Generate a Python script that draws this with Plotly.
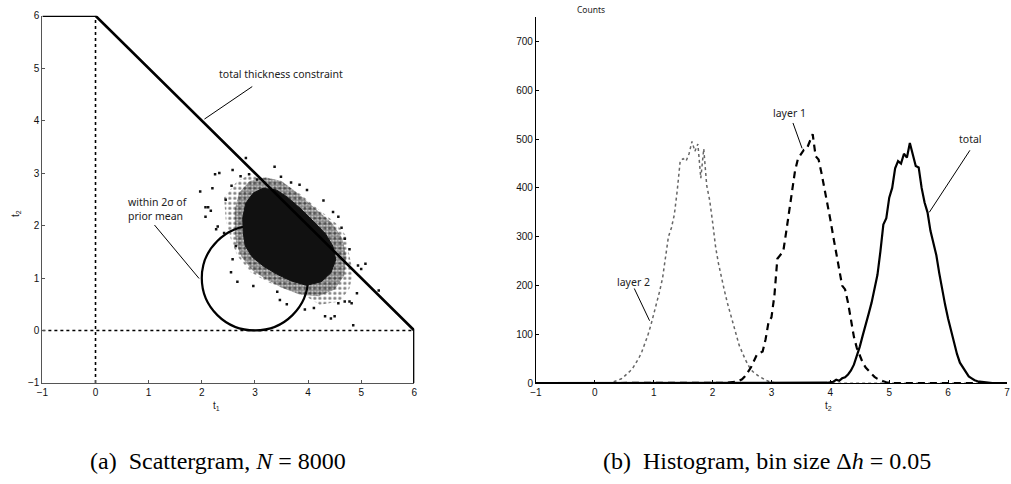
import numpy as np
import plotly.graph_objects as go

# ---------------- data: scattergram (left) ----------------
constraint_t1 = [-1, 0, 6, 6]
constraint_t2 = [6, 6, 0, -1]

# solid core of the 8000-sample cloud (outline)
core_t1 = [2.78, 2.77, 2.83, 2.97, 3.15, 3.40, 3.60, 3.85, 4.10, 4.33, 4.47, 4.52, 4.43, 4.25, 3.97, 3.67, 3.42, 3.17, 2.95, 2.82]
core_t2 = [1.86, 2.15, 2.43, 2.62, 2.71, 2.68, 2.55, 2.33, 2.08, 1.84, 1.60, 1.35, 1.10, 0.93, 0.86, 0.95, 1.07, 1.22, 1.40, 1.61]

# dense speckled fringe
fringe_t1 = [2.62, 2.62, 2.70, 2.90, 3.20, 3.50, 3.80, 4.10, 4.45, 4.65, 4.72, 4.68, 4.50, 4.20, 3.85, 3.50, 3.20, 2.95, 2.75, 2.65]
fringe_t2 = [1.90, 2.30, 2.62, 2.85, 2.92, 2.85, 2.62, 2.35, 2.05, 1.75, 1.40, 1.05, 0.78, 0.65, 0.68, 0.82, 0.98, 1.15, 1.40, 1.65]

# sparse outer halo
halo_t1 = [2.42, 2.67, 2.92, 3.17, 3.48, 3.85, 4.22, 4.53, 4.72, 4.78, 4.85, 4.78, 4.60, 4.22, 3.91, 3.54, 3.23, 2.92, 2.67, 2.55, 2.45]
halo_t2 = [2.54, 2.85, 2.98, 2.91, 2.85, 2.60, 2.29, 2.04, 1.80, 1.42, 1.11, 0.80, 0.55, 0.49, 0.68, 0.80, 0.93, 1.11, 1.42, 1.73, 2.11]

# isolated samples outside the halo
out_t1 = [2.83, 3.37, 2.58, 2.25, 2.33, 1.97, 2.20, 2.07, 2.12, 2.07, 2.17, 2.30, 2.27, 2.45, 2.56,
          2.73, 2.89, 3.04, 3.49, 3.68, 3.84, 3.98, 4.63, 4.69, 4.78, 4.94, 5.08, 5.00, 5.33, 4.92,
          4.82, 4.69, 4.57, 4.32, 4.43, 4.50, 4.85, 4.11, 3.94, 3.60, 3.47, 2.97, 3.42, 2.58, 2.64,
          2.55, 2.67, 2.42, 4.57, 4.47, 4.29, 4.78]
out_t2 = [3.29, 3.12, 3.06, 2.98, 3.00, 2.65, 2.71, 2.35, 2.35, 2.17, 2.28, 1.98, 1.93, 2.49, 2.76,
          2.94, 2.98, 2.88, 2.93, 2.82, 2.78, 2.68, 1.96, 1.75, 1.55, 1.24, 1.27, 1.17, 0.76, 0.71,
          0.52, 0.55, 0.52, 0.27, 0.23, 0.27, 0.10, 0.43, 0.40, 0.50, 0.58, 0.85, 0.74, 1.36, 1.61,
          1.11, 0.93, 1.86, 2.17, 2.26, 2.48, 0.55]

prior_center = (3, 1)
prior_radius = 1

# ---------------- data: histogram (right) ----------------
bin_size = 0.05
layer2_start = 0.30
layer2_counts = [2, 4, 6, 9, 14, 19, 25, 32, 42, 52, 65, 80, 98, 118, 140, 162, 188, 215, 255, 300,
                 318, 345, 395, 455, 460, 455, 470, 495, 475, 490, 420, 480, 405, 375, 330, 280, 245,
                 215, 190, 165, 145, 125, 100, 78, 62, 50, 38, 28, 22, 17, 13, 10, 6, 4, 2, 1]
layer1_start = 2.20
layer1_counts = [0, 1, 2, 2, 3, 5, 8, 14, 22, 32, 45, 58, 62, 65, 90, 125, 135, 180, 255, 262, 270,
                 310, 350, 395, 435, 460, 470, 478, 480, 495, 510, 465, 458, 430, 400, 365, 335, 300,
                 265, 230, 200, 192, 165, 130, 95, 72, 55, 42, 32, 25, 18, 13, 9, 6, 4, 2, 1, 0]
total_start = 3.90
total_counts = [0, 1, 2, 3, 7, 5, 10, 12, 18, 26, 38, 55, 75, 98, 118, 142, 165, 195, 222, 270, 325,
                338, 380, 400, 440, 455, 450, 470, 462, 492, 470, 445, 442, 400, 370, 350, 312, 285,
                262, 225, 190, 160, 132, 108, 80, 60, 42, 32, 22, 14, 10, 6, 4, 3, 2, 1, 1, 0]

hist_min, hist_max = -1.0, 7.0

x1_ticks = [-1, 0, 1, 2, 3, 4, 5, 6]
y1_ticks = [-1, 0, 1, 2, 3, 4, 5, 6]
x2_ticks = [-1, 0, 1, 2, 3, 4, 5, 6, 7]
y2_ticks = [0, 100, 200, 300, 400, 500, 600, 700]

# ---------------- build ----------------
W, H = 1011, 484
bins = np.round(np.arange(hist_min, hist_max + bin_size / 2, bin_size), 2)


def full_counts(start, counts):
    c = np.zeros(len(bins))
    i0 = int(round((start - hist_min) / bin_size))
    c[i0:i0 + len(counts)] = counts
    return c


def px(x):
    return x / W


def py(y):
    return 1 - y / H


def closed(a):
    return list(a) + [a[0]]


fig = go.Figure()

# left panel traces
fig.add_trace(go.Scatter(x=[-1, 6], y=[0, 0], mode="lines",
                         line=dict(color="black", width=1.6, dash="dot"), xaxis="x", yaxis="y"))
fig.add_trace(go.Scatter(x=[0, 0], y=[-1, 6], mode="lines",
                         line=dict(color="black", width=1.6, dash="dot"), xaxis="x", yaxis="y"))
fig.add_trace(go.Scatter(x=closed(halo_t1), y=closed(halo_t2), mode="lines", fill="toself",
                         line=dict(width=0, color="rgba(0,0,0,0)"), fillcolor="rgba(0,0,0,0)",
                         fillpattern=dict(shape=".", size=5, solidity=0.3, fgcolor="black",
                                          bgcolor="rgba(0,0,0,0)", fillmode="overlay"),
                         xaxis="x", yaxis="y"))
fig.add_trace(go.Scatter(x=closed(fringe_t1), y=closed(fringe_t2), mode="lines", fill="toself",
                         line=dict(width=0, color="rgba(0,0,0,0)"), fillcolor="rgba(0,0,0,0)",
                         fillpattern=dict(shape=".", size=3, solidity=0.75, fgcolor="black",
                                          bgcolor="rgba(0,0,0,0)", fillmode="overlay"),
                         xaxis="x", yaxis="y"))
fig.add_trace(go.Scatter(x=closed(core_t1), y=closed(core_t2), mode="lines", fill="toself",
                         line=dict(width=1, color="#111"), fillcolor="#111",
                         xaxis="x", yaxis="y"))
fig.add_trace(go.Scatter(x=out_t1, y=out_t2, mode="markers",
                         marker=dict(symbol="square", size=2.5, color="#111", line=dict(width=0)),
                         xaxis="x", yaxis="y"))
fig.add_trace(go.Scatter(x=constraint_t1, y=constraint_t2, mode="lines",
                         line=dict(color="black", width=2.6), xaxis="x", yaxis="y"))

# right panel traces
fig.add_trace(go.Scatter(x=bins, y=full_counts(layer2_start, layer2_counts), mode="lines",
                         line=dict(color="#666", width=1.5, dash="dot"), xaxis="x2", yaxis="y2"))
fig.add_trace(go.Scatter(x=bins, y=full_counts(layer1_start, layer1_counts), mode="lines",
                         line=dict(color="black", width=2.2, dash="7px,5px"), xaxis="x2", yaxis="y2"))
fig.add_trace(go.Scatter(x=bins, y=full_counts(total_start, total_counts), mode="lines",
                         line=dict(color="black", width=2.2), xaxis="x2", yaxis="y2"))

cx, cy = prior_center
shapes = [
    dict(type="circle", xref="x", yref="y", x0=cx - prior_radius, x1=cx + prior_radius,
         y0=cy - prior_radius, y1=cy + prior_radius, line=dict(color="black", width=2.2), layer="below"),
    dict(type="line", xref="x", yref="y", x0=2.95, y0=4.65, x1=2.05, y1=4.03, line=dict(color="black", width=1)),
    dict(type="line", xref="x", yref="y", x0=1.11, y0=2.01, x1=1.95, y1=0.99, line=dict(color="black", width=1)),
    dict(type="line", xref="x2", yref="y2", x0=3.365, y0=533, x1=3.52, y1=481, line=dict(color="black", width=1)),
    dict(type="line", xref="x2", yref="y2", x0=0.67, y0=194, x1=0.93, y1=128, line=dict(color="black", width=1)),
    dict(type="line", xref="x2", yref="y2", x0=6.37, y0=477, x1=5.68, y1=350, line=dict(color="black", width=1)),
]

ann_font = dict(family="Noto Sans, Open Sans, sans-serif", size=10.5, color="#222")
lab_font = dict(family="Liberation Sans, Arial, sans-serif", size=10, color="#222")
cap_font = dict(family="Liberation Serif, serif", size=24, color="black")
annotations = [
    dict(x=3.50, y=4.88, xref="x", yref="y", text="total thickness constraint", showarrow=False,
         xanchor="center", font=ann_font),
    dict(x=0.57, y=2.31, xref="x", yref="y", text="within 2σ of<br>prior mean", showarrow=False,
         xanchor="left", align="left", font=ann_font),
    dict(x=3.30, y=553, xref="x2", yref="y2", text="layer 1", showarrow=False, xanchor="center", font=ann_font),
    dict(x=0.655, y=208, xref="x2", yref="y2", text="layer 2", showarrow=False, xanchor="center", font=ann_font),
    dict(x=6.384, y=500, xref="x2", yref="y2", text="total", showarrow=False, xanchor="center", font=ann_font),
    dict(x=px(590.5), y=py(5), xref="paper", yref="paper", text="Counts", showarrow=False,
         xanchor="center", yanchor="middle", font=dict(family="Noto Sans, sans-serif", size=8.5, color="#222")),
    dict(x=px(212), y=py(410), xref="paper", yref="paper", text="t<sub>1</sub>", showarrow=False,
         xanchor="center", yanchor="middle", font=lab_font),
    dict(x=px(10), y=py(213), xref="paper", yref="paper", text="t<sub>2</sub>", showarrow=False, textangle=-90,
         xanchor="center", yanchor="middle", font=lab_font),
    dict(x=px(830), y=py(410), xref="paper", yref="paper", text="t<sub>2</sub>", showarrow=False,
         xanchor="center", yanchor="middle", font=lab_font),
    dict(x=px(214), y=py(467), xref="paper", yref="paper",
         text="(a)&nbsp;&nbsp;Scattergram, <i>N</i> = 8000", showarrow=False,
         xanchor="center", yanchor="middle", font=cap_font),
    dict(x=px(768), y=py(467), xref="paper", yref="paper",
         text="(b)&nbsp;&nbsp;Histogram, bin size Δ<i>h</i> = 0.05", showarrow=False,
         xanchor="center", yanchor="middle", font=cap_font),
]

tick_font = dict(family="Liberation Sans, Arial, sans-serif", size=10, color="#111")
common = dict(showgrid=False, zeroline=False, showline=True, ticks="inside", ticklen=3,
              tickfont=tick_font, fixedrange=True)

fig.update_layout(
    width=W, height=H, margin=dict(l=0, r=0, t=0, b=0),
    paper_bgcolor="white", plot_bgcolor="white", showlegend=False,
    xaxis=dict(domain=[px(36.7), px(412)], range=[-1, 6], tickvals=x1_ticks, anchor="y",
               linecolor="#555", linewidth=1, tickcolor="#555", **common),
    yaxis=dict(domain=[py(386.7), py(11)], range=[-1, 6], tickvals=y1_ticks, anchor="x",
               linecolor="#555", linewidth=1, tickcolor="#555", **common),
    xaxis2=dict(domain=[px(534.7), px(1010)], range=[-1, 7], tickvals=x2_ticks, anchor="y2",
                linecolor="black", linewidth=1, tickcolor="black", **common),
    yaxis2=dict(domain=[py(387), py(12.3)], range=[0, 750], tickvals=y2_ticks, anchor="x2",
                linecolor="black", linewidth=1, tickcolor="black", **common),
    shapes=shapes, annotations=annotations,
)

fig.write_html("out.html")
